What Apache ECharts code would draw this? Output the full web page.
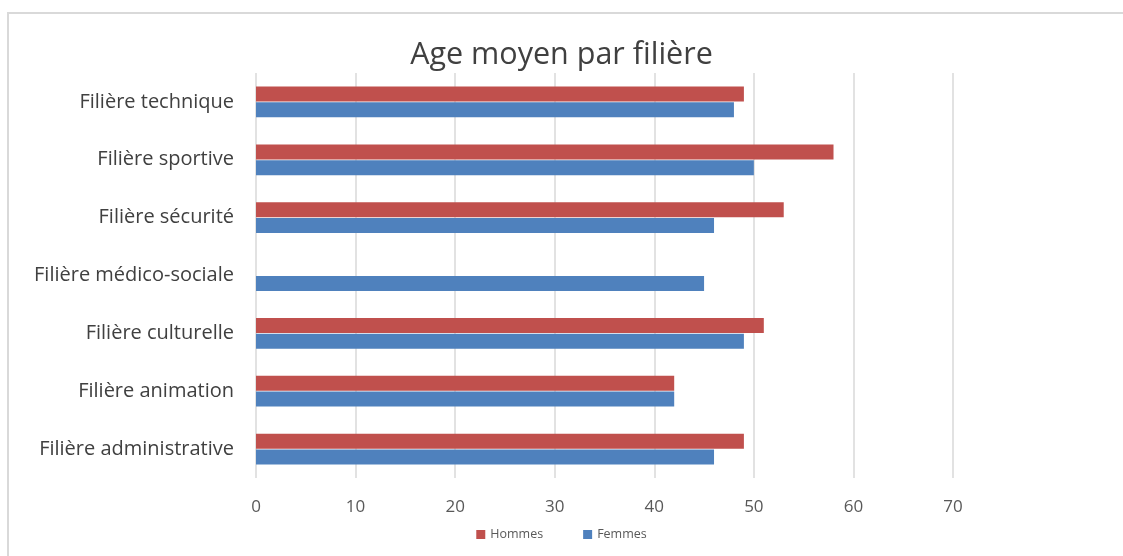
<!DOCTYPE html>
<html>
<head>
<meta charset="utf-8">
<script src="https://cdn.jsdelivr.net/npm/echarts@6/dist/echarts.min.js"></script>
<style>html,body{margin:0;padding:0;background:#fff}#c{width:1123px;height:556px}</style>
</head>
<body>
<div id="c"></div>
<script>
// bottom-to-top order
const categories = ["Filière administrative","Filière animation","Filière culturelle","Filière médico-sociale","Filière sécurité","Filière sportive","Filière technique"];
const hommes = [49, 42, 51, null, 53, 58, 49];
const femmes = [46, 42, 49, 45, 46, 50, 48];
const xTicks = [0, 10, 20, 30, 40, 50, 60, 70];

const font = "'Open Sans', 'Noto Sans', sans-serif";
const chart = echarts.init(document.getElementById('c'), null, {renderer: 'canvas'});
chart.setOption({
  animation: false,
  backgroundColor: '#fff',
  title: {
    text: 'Age moyen par filière', left: 'center', top: 35,
    textStyle: {fontFamily: font, fontSize: 30.5, fontWeight: 'normal', color: '#404040'}
  },
  legend: {
    data: ['Hommes', 'Femmes'], bottom: 10, left: 'center',
    itemWidth: 9, itemHeight: 9, itemGap: 40,
    textStyle: {fontFamily: font, fontSize: 12.5, color: '#595959'},
    icon: 'rect'
  },
  graphic: [{
    type: 'rect', shape: {x: 8, y: 13, width: 1200, height: 600},
    style: {fill: 'none', stroke: '#d9d9d9', lineWidth: 2}, silent: true
  }],
  grid: {left: 256, right: 170, top: 73, bottom: 78, containLabel: false},
  xAxis: {
    type: 'value', min: xTicks[0], max: xTicks[xTicks.length - 1], interval: 10,
    axisLine: {show: false}, axisTick: {show: false},
    splitLine: {show: true, lineStyle: {color: '#d9d9d9', width: 1.5}},
    axisLabel: {fontFamily: font, fontSize: 17, color: '#595959', margin: 21}
  },
  yAxis: {
    type: 'category', data: categories,
    axisLine: {show: false}, axisTick: {show: false},
    axisLabel: {fontFamily: font, fontSize: 20, color: '#404040', margin: 22}
  },
  series: [
    {name: 'Hommes', type: 'bar', data: hommes, barWidth: 15, barGap: '5%', barCategoryGap: '48%',
     itemStyle: {color: '#C0504D'}},
    {name: 'Femmes', type: 'bar', data: femmes, barWidth: 15, barGap: '5%', barCategoryGap: '48%',
     itemStyle: {color: '#4F81BD'}}
  ]
});
</script>
</body>
</html>
